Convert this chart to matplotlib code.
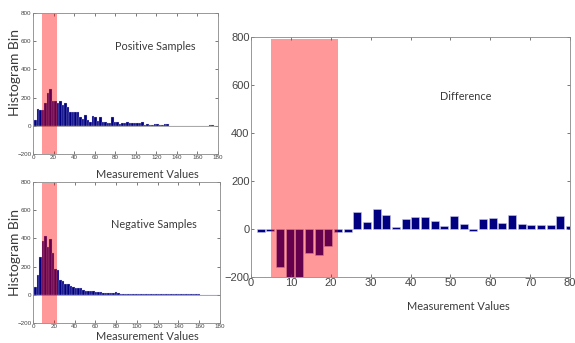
import numpy as np
import matplotlib
matplotlib.use('Agg')
import matplotlib.pyplot as plt

# bin spacing shared by all three panels
bin_step = 80 / 33

positive = [40, 120, 110, 115, 160, 230, 260, 175, 175, 160, 175, 145, 160, 135,
            100, 100, 100, 100, 60, 50, 75, 40, 25, 70, 60, 35, 60, 25, 25, 20,
            22, 60, 30, 25, 12, 20, 22, 30, 22, 20, 20, 20, 18, 25, 3, 12, 8, 5,
            10, 14, 8, 5, 10, 10, 0, 0, 0, 0, 0, 0, 0, 0, 0, 0, 0, 0, 0, 0, 0, 0,
            8, 8, 0, 0]
negative = [55, 140, 265, 380, 415, 340, 395, 300, 185, 175, 105, 95, 80, 80,
            65, 55, 50, 45, 45, 32, 28, 25, 25, 24, 20, 18, 17, 16, 15, 14, 13,
            12, 18, 10, 8, 8, 8, 8, 8, 8, 5, 5, 5, 5, 5, 5, 5, 5, 5, 5, 5, 5, 5,
            5, 5, 5, 5, 5, 5, 5, 5, 5, 5, 5, 5, 5, 0, 0, 0, 0, 0, 0, 0, 0]
difference = [-14, -10, -158, -230, -225, -102, -110, -70, -12, -12, 71, 28, 84,
              59, 7, 43, 49, 48, 32, 14, 53, 21, -7, 43, 46, 24, 59, 22, 15, 17,
              17, 53, 14]

span_left = (8.5, 23)
span_right = (5, 21.7)

navy = '#000080'
W, H = 575, 343
fig = plt.figure(figsize=(W / 100, H / 100), dpi=100)
plt.rcParams['font.family'] = ['Lato', 'DejaVu Sans']
narrow = ['Liberation Sans Narrow', 'Liberation Sans', 'DejaVu Sans']


def ax_px(x0, y0, x1, y1):
    return fig.add_axes([x0 / W, 1 - y1 / H, (x1 - x0) / W, (y1 - y0) / H])


def style(ax, size):
    for s in ax.spines.values():
        s.set_color('#888888')
        s.set_linewidth(0.6)
    ax.tick_params(direction='in', top=True, right=True, length=2,
                   width=0.5, colors='#444444', labelsize=size, pad=1,
                   labelfontfamily=narrow)


def histo(ax, vals, span):
    x = bin_step * np.arange(1, len(vals) + 1)
    ax.bar(x, vals, width=bin_step, color=navy, edgecolor='#d0d0f0', linewidth=0.2)
    ax.axhline(0, color='#888888', lw=0.5)
    ax.axvspan(span[0], span[1], ymin=0, ymax=0.99, color='red', alpha=0.4, lw=0, zorder=3)
    ax.set_xlim(0, 180)
    ax.set_ylim(-200, 800)
    ax.set_xticks(range(0, 181, 20))
    ax.set_yticks(range(-200, 801, 200))
    style(ax, 4.5)


ax1 = ax_px(33, 13, 218, 154)
histo(ax1, positive, span_left)
ax2 = ax_px(33, 182, 220, 323)
histo(ax2, negative, span_left)

ax3 = ax_px(251, 37, 570, 277)
xd = bin_step * np.arange(1, len(difference) + 1)
ax3.bar(xd, difference, width=2.0, color=navy, edgecolor='#c8c8e8', linewidth=0.4)
ax3.axvspan(span_right[0], span_right[1], ymin=0, ymax=0.99, color='red', alpha=0.4, lw=0, zorder=3)
ax3.set_xlim(0, 80)
ax3.set_ylim(-200, 800)
ax3.set_xticks(range(0, 81, 10))
ax3.set_yticks(range(-200, 801, 200))
style(ax3, 8)

txt = '#3a3a3a'
fig.text(155 / W, 1 - 47 / H, 'Positive Samples', ha='center', va='center', fontsize=7.8, color=txt)
fig.text(154 / W, 1 - 224 / H, 'Negative Samples', ha='center', va='center', fontsize=7.8, color=txt)
fig.text(466 / W, 1 - 97 / H, 'Difference', ha='center', va='center', fontsize=7.8, color=txt)
fig.text(147 / W, 1 - 174 / H, 'Measurement Values', ha='center', va='center', fontsize=7.9, color=txt)
fig.text(147 / W, 1 - 337 / H, 'Measurement Values', ha='center', va='center', fontsize=7.9, color=txt)
fig.text(458 / W, 1 - 306 / H, 'Measurement Values', ha='center', va='center', fontsize=7.9, color=txt)
fig.text(15 / W, 1 - 72 / H, 'Histogram Bin', ha='center', va='center', rotation=90, fontsize=10, color=txt)
fig.text(15 / W, 1 - 252 / H, 'Histogram Bin', ha='center', va='center', rotation=90, fontsize=10, color=txt)

fig.savefig('out.png', dpi=100)
